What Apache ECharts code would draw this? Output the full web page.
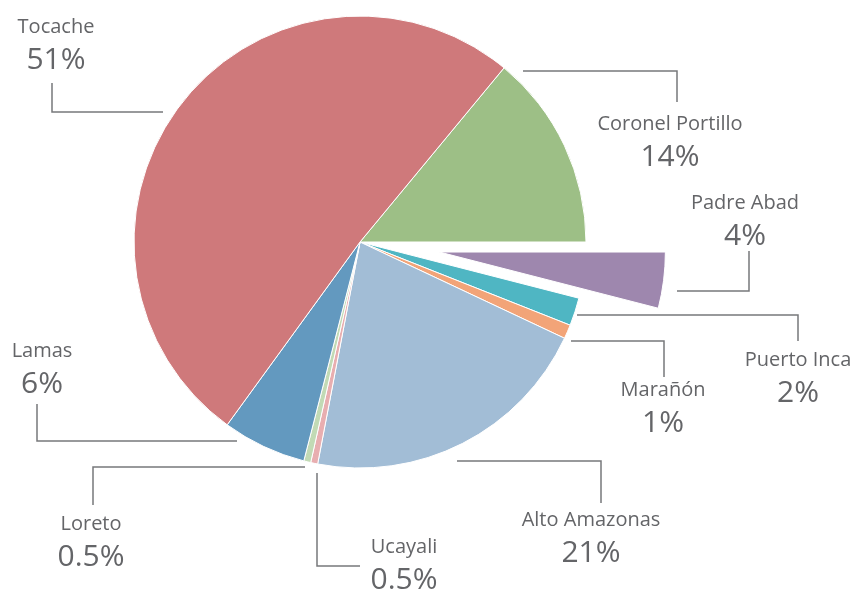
<!DOCTYPE html>
<html>
<head>
<meta charset="utf-8">
<script src="https://cdn.jsdelivr.net/npm/echarts@6/dist/echarts.min.js"></script>
<style>
  html, body { margin: 0; padding: 0; background: #fff; }
  #chart { width: 857px; height: 590px; }
</style>
</head>
<body>
<div id="chart"></div>
<script>
// data, clockwise from the top-right
var names = ['Coronel Portillo', 'Padre Abad', 'Puerto Inca', 'Marañón', 'Alto Amazonas', 'Ucayali', 'Loreto', 'Lamas', 'Tocache']
var values = [14, 4, 2, 1, 21, 0.5, 0.5, 6, 51]
var colors = ['#9dbf86', '#9e87ae', '#4fb6c3', '#f2a478', '#a2bdd6', '#e8aeb0', '#c2dab5', '#6399bf', '#cf797b']
var exploded = 'Padre Abad'

// label placement: [centerX, centerY] and the elbow line points
var labelPos = [
  [670, 142], [745, 221], [798, 378], [663, 408], [591, 538], [404, 565], [91, 542], [42, 369], [56, 45]
]
var linePts = [
  [[523, 71], [677, 71], [677, 102]],
  [[677, 291], [749, 291], [749, 251]],
  [[577, 315], [798, 315], [798, 341]],
  [[571, 341], [664, 341], [664, 377]],
  [[457, 461], [601, 461], [601, 503]],
  [[317, 473], [317, 566], [360, 566]],
  [[305, 467], [93, 467], [93, 505]],
  [[237, 441], [37, 441], [37, 404]],
  [[163, 112], [52, 112], [52, 83]]
]

var cx = 360, cy = 242
var startAngle = 50.4
var offset = 80

// shift of the pulled-out slice along its middle angle
var total = values.reduce(function (a, b) { return a + b }, 0)
var ei = names.indexOf(exploded)
var before = 0
for (var k = 0; k < ei; k++) before += values[k]
var mid = (startAngle - (before + values[ei] / 2) / total * 360) * Math.PI / 180
var dx = Math.cos(mid) * offset
var dy = -Math.sin(mid) * offset

var textColor = '#646568'

function makeSeries (center, showIt) {
  return {
    type: 'pie',
    center: center,
    radius: 226,
    startAngle: startAngle,
    clockwise: true,
    avoidLabelOverlap: false,
    silent: true,
    emphasis: { disabled: true },
    label: {
      show: true,
      position: 'outside',
      fontFamily: 'Open Sans',
      color: textColor,
      formatter: function (p) {
        return '{n|' + p.name + '}\n{p|' + p.value + '%}'
      },
      rich: {
        n: { fontSize: 20, lineHeight: 30, color: textColor, fontFamily: 'Open Sans', align: 'center' },
        p: { fontSize: 30, lineHeight: 36, color: textColor, fontFamily: 'Open Sans', align: 'center' }
      }
    },
    labelLine: {
      show: true,
      lineStyle: { color: '#77787b', width: 1.5 }
    },
    labelLayout: function (params) {
      var i = params.dataIndex
      return {
        x: labelPos[i][0],
        y: labelPos[i][1],
        align: 'center',
        verticalAlign: 'middle',
        labelLinePoints: linePts[i]
      }
    },
    data: names.map(function (n, i) {
      var on = showIt(n)
      return {
        name: n,
        value: values[i],
        itemStyle: on
          ? { color: colors[i], borderColor: '#fff', borderWidth: 1 }
          : { color: 'rgba(0,0,0,0)', borderWidth: 0 },
        label: { show: on },
        labelLine: { show: on }
      }
    })
  }
}

var chart = echarts.init(document.getElementById('chart'))
chart.setOption({
  animation: false,
  series: [
    makeSeries([cx, cy], function (n) { return n !== exploded }),
    makeSeries([cx + dx, cy + dy], function (n) { return n === exploded })
  ]
})
</script>
</body>
</html>
